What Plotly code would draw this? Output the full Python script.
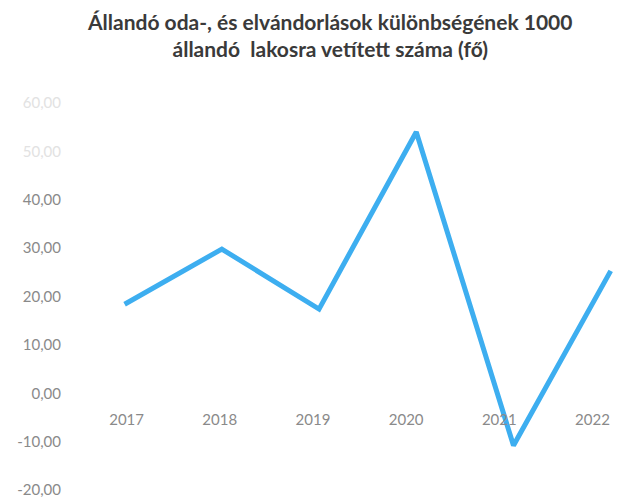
import plotly.graph_objects as go

years = ["2017", "2018", "2019", "2020", "2021", "2022"]
values = [18.4, 29.8, 17.4, 54.0, -10.8, 25.3]
y_ticks = [60, 50, 40, 30, 20, 10, 0, -10, -20]
y_tick_labels = ["60,00", "50,00", "40,00", "30,00", "20,00", "10,00", "0,00", "-10,00", "-20,00"]
faded = {"60,00", "50,00"}
title_text = "Állandó oda-, és elvándorlások különbségének 1000<br>állandó  lakosra vetített száma (fő)"

idx = list(range(len(years)))
tick_text = [
    f'<span style="color:#e2e2e2">{t}</span>' if t in faded else t
    for t in y_tick_labels
]

fig = go.Figure()
fig.add_trace(go.Scatter(
    x=idx, y=values, mode="lines",
    line=dict(color="#3DAEF0", width=5),
    showlegend=False, hoverinfo="skip",
))
fig.add_trace(go.Scatter(
    x=idx, y=values, xaxis="x2", mode="lines",
    line=dict(color="rgba(0,0,0,0)", width=0),
    showlegend=False, hoverinfo="skip",
))

fig.add_annotation(
    text=title_text, showarrow=False,
    xref="paper", x=0.453, xanchor="center",
    yref="paper", y=1.177, yanchor="middle",
    align="center",
    font=dict(family="Lato, Open Sans, sans-serif", size=21, color="#3a3a3a", weight="bold"),
)

fig.update_layout(
    width=629, height=494,
    paper_bgcolor="white", plot_bgcolor="white",
    margin=dict(l=68, r=2, t=95, b=12),
    font=dict(family="Lato, Open Sans, sans-serif", color="#7f7f7f"),
    xaxis=dict(
        range=[-0.5, 5.25], showticklabels=False, showgrid=False,
        zeroline=False, showline=False, ticks="",
    ),
    xaxis2=dict(
        overlaying="x", anchor="free", position=0.209, side="bottom",
        range=[-0.543, 5.456],
        tickmode="array", tickvals=idx, ticktext=years,
        showgrid=False, zeroline=False, showline=False, ticks="",
        tickfont=dict(size=15, color="#8a8a8a"),
    ),
    yaxis=dict(
        range=[-20, 60], tickmode="array", tickvals=y_ticks, ticktext=tick_text,
        showgrid=False, zeroline=False, showline=False, ticks="",
        tickfont=dict(size=15, color="#8a8a8a"),
        ticklabelstandoff=14,
    ),
)

fig.write_html("out.html")
